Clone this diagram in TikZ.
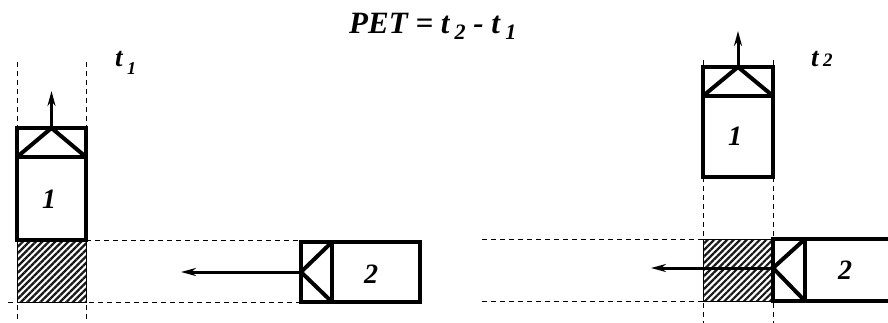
\documentclass[tikz,border=0pt]{standalone}
\usepackage{fontspec}
\setmainfont{Liberation Serif}
\usetikzlibrary{arrows.meta,patterns.meta}
\begin{document}
\begin{tikzpicture}[x=1pt,y=-1pt,
  body/.style={line width=4pt,line join=miter},
  dline/.style={line width=1pt,dash pattern=on 5pt off 4pt},
  move/.style={line width=3pt,-{Stealth[length=15pt,width=8pt]}},
  hatch/.style={pattern={Lines[angle=45,distance=4.6pt,line width=2.2pt]},pattern color=black!90,draw,line width=1pt},
  lab/.style={font=\fontsize{28}{28}\selectfont\bfseries\itshape,inner sep=0pt},
  tlab/.style={font=\fontsize{27}{27}\selectfont\bfseries\itshape,inner sep=0pt,anchor=base west},
  title/.style={font=\fontsize{31}{31}\selectfont\bfseries\itshape,inner sep=0pt,anchor=base west}]
\useasboundingbox (0,0) rectangle (888,323);
% title
\node[title] (ttl) at (349,34) {PET = t\,\raisebox{-6pt}{\fontsize{22}{22}\selectfont 2} - t\,\raisebox{-6pt}{\fontsize{22}{22}\selectfont 1}};
% ---------- left scene (t1)
\draw[dline] (17,62) -- (17,323);
\draw[dline] (86,62) -- (86,323);
\draw[dline] (86,240) -- (301,240);
\draw[dline] (8,302) -- (301,302);
\draw[hatch] (17,240) rectangle (86,302);
\draw[body,fill=white] (17,128) rectangle (86,240);
\draw[body] (17,157) -- (86,157);
\draw[body] (17,157) -- (51.5,128) -- (86,157);
\coordinate (a1s) at (51.5,128);
\coordinate (a1e) at (51.5,91);
\draw[move] (a1s) -- (a1e);
\node[lab] (one1) at (49,199) {1};
\draw[body,fill=white] (301,242) rectangle (420,302);
\draw[body] (332,242) -- (332,302);
\draw[body] (332,242) -- (301,272) -- (332,302);
\coordinate (a2s) at (301,272);
\coordinate (a2e) at (181,272);
\draw[move] (a2s) -- (a2e);
\node[lab] (two1) at (371,274) {2};
\node[tlab] (t1) at (115,67) {t\,\raisebox{-8pt}{\fontsize{18}{18}\selectfont 1}};
% ---------- right scene (t2)
\draw[dline] (703,60) -- (703,323);
\draw[dline] (773,60) -- (773,323);
\draw[dline] (482,239) -- (703,239);
\draw[dline] (482,301) -- (703,301);
\draw[hatch] (703,239) rectangle (773,301);
\draw[body,fill=white] (703,67) rectangle (773,177);
\draw[body] (703,96) -- (773,96);
\draw[body] (703,96) -- (738,67) -- (773,96);
\coordinate (b1s) at (738,67);
\coordinate (b1e) at (738,31);
\draw[move] (b1s) -- (b1e);
\node[lab] (one2) at (735,136) {1};
\draw[body,fill=white] (890,239) -- (773,239) -- (773,301) -- (890,301);
\draw[body] (805,239) -- (805,301);
\draw[body] (805,239) -- (773,268) -- (805,301);
\coordinate (b2s) at (773,268);
\coordinate (b2e) at (651,268);
\draw[move] (b2s) -- (b2e);
\node[lab] (two2) at (845,270) {2};
\node[tlab] (t2) at (811,67) {t\,{\fontsize{19}{19}\selectfont 2}};
\end{tikzpicture}
\end{document}
